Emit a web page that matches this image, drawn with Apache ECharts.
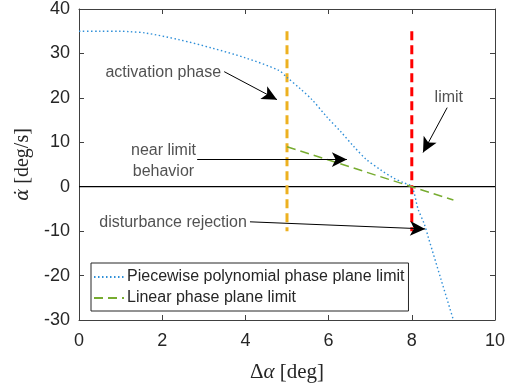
<!DOCTYPE html>
<html lang="en">
<head>
  <meta charset="UTF-8">
  <script src="https://cdn.jsdelivr.net/npm/echarts/dist/echarts.min.js"></script>
  <title>Phase plane limit</title>
  <style>
    html, body { margin: 0; padding: 0; background: #fff; }
    #chart { width: 505px; height: 385px; }
  </style>
</head>
<body>
  <div id="chart"></div>
  <script>
    // piecewise polynomial limit
    const polyX = [0, 0.5, 1.0, 1.2, 1.6, 2.4, 3.2, 4.0, 4.8, 5.0, 5.3, 5.6, 5.95, 6.3, 6.6, 6.9, 7.25, 7.55, 7.8, 8.0, 8.15, 8.3, 8.4, 8.7, 9.0];
    const polyY = [35, 35, 35, 34.9, 34.6, 33.1, 31.2, 29.0, 26.2, 24.6, 22.2, 19.6, 15.8, 12.3, 9.1, 6.2, 3.8, 2.0, 0.9, 0.0, -5.0, -8.4, -11.5, -20.8, -30];

    // linear limit
    const linX = [5, 9];
    const linY = [9, -3];

    // vertical markers (activation / limit)
    const actX = 5, limX = 8;
    const markerY = [35, -10];

    // annotations: text, anchor point, arrow start/end
    const notes = [
      { text: 'activation phase', at: [3.44, 25.6], pos: 'left', from: [3.49, 25.9], to: [4.76, 19.6] },
      { text: 'near limit\nbehavior', at: [2.03, 5.7], pos: 'inside', from: [2.84, 6.1], to: [6.44, 6.1] },
      { text: 'limit', at: [8.89, 20.0], pos: 'inside', from: [8.85, 17.8], to: [8.27, 7.7] },
      { text: 'disturbance rejection', at: [4.06, -8.0], pos: 'left', from: [4.11, -7.9], to: [8.32, -9.5] }
    ];

    const sans = 'Liberation Sans, Arial, sans-serif';
    const serif = 'Liberation Serif, Times New Roman, serif';
    const axisCol = '#404040';

    const chart = echarts.init(document.getElementById('chart'), null, { renderer: 'canvas' });

    const pairs = (xs, ys) => xs.map((x, i) => [x, ys[i]]);

    const boxAxis = (pos) => ({
      type: 'value',
      position: pos,
      axisLine: { show: true, onZero: false, lineStyle: { color: axisCol, width: 1 } },
      axisTick: { show: true, inside: true, length: 5, lineStyle: { color: axisCol } },
      axisLabel: { show: false },
      splitLine: { show: false }
    });

    const option = {
      animation: false,
      grid: { left: 79, right: 10, top: 9, bottom: 65, containLabel: false, outerBoundsMode: 'none' },
      xAxis: [
        {
          type: 'value', min: 0, max: 10, interval: 2,
          axisLine: { show: true, onZero: false, lineStyle: { color: axisCol, width: 1 } },
          axisTick: { show: true, inside: true, length: 5, lineStyle: { color: axisCol } },
          axisLabel: { margin: 12, fontFamily: sans, fontSize: 18, color: '#262626' },
          splitLine: { show: false },
          name: '{d|Δ}{i|α} [deg]',
          nameLocation: 'middle',
          nameGap: 42,
          nameTextStyle: {
            fontFamily: serif, fontSize: 21, color: '#262626',
            rich: {
              d: { fontFamily: serif, fontSize: 21, color: '#262626' },
              i: { fontFamily: serif, fontSize: 21, fontStyle: 'italic', color: '#262626' }
            }
          }
        },
        Object.assign(boxAxis('top'), { min: 0, max: 10, interval: 2 })
      ],
      yAxis: [
        {
          type: 'value', min: -30, max: 40, interval: 10,
          axisLine: { show: true, onZero: false, lineStyle: { color: axisCol, width: 1 } },
          axisTick: { show: true, inside: true, length: 5, lineStyle: { color: axisCol } },
          axisLabel: { margin: 9, fontFamily: sans, fontSize: 18, color: '#262626' },
          splitLine: { show: false },
          name: '{i|α̇} [deg/s]',
          nameLocation: 'middle',
          nameGap: 38,
          nameTextStyle: {
            fontFamily: serif, fontSize: 20, color: '#262626',
            rich: {
              i: { fontFamily: 'DejaVu Serif', fontSize: 18, fontStyle: 'italic', color: '#262626' }
            }
          }
        },
        Object.assign(boxAxis('right'), { min: -30, max: 40, interval: 10 })
      ],
      legend: {
        data: ['Piecewise polynomial phase plane limit', 'Linear phase plane limit'],
        orient: 'vertical',
        left: 91, top: 263,
        itemWidth: 30, itemHeight: 10, itemGap: 5,
        padding: [6, 4, 5, 2],
        borderColor: '#262626', borderWidth: 1, borderRadius: 0,
        backgroundColor: '#fff',
        itemStyle: { opacity: 0 },
        textStyle: { fontFamily: sans, fontSize: 16, color: '#262626', padding: [0, 0, 0, -2] }
      },
      series: [
        {
          name: 'zero', type: 'line', symbol: 'none', silent: true,
          data: [[0, 0], [10, 0]],
          lineStyle: { color: '#000', width: 1.3 }
        },
        {
          name: 'activation', type: 'line', symbol: 'none', silent: true,
          data: markerY.map(y => [actX, y]),
          lineStyle: { color: '#EDB120', width: 3, type: [9, 5] }
        },
        {
          name: 'limitline', type: 'line', symbol: 'none', silent: true,
          data: markerY.map(y => [limX, y]),
          lineStyle: { color: '#FF0000', width: 3, type: [9, 5] }
        },
        {
          name: 'Piecewise polynomial phase plane limit', type: 'line', symbol: 'none',
          smooth: 0.3,
          data: pairs(polyX, polyY),
          color: '#2f8fd8',
          lineStyle: { color: '#2f8fd8', width: 1.4, type: [1.5, 2.5] }
        },
        {
          name: 'Linear phase plane limit', type: 'line', symbol: 'none',
          data: pairs(linX, linY),
          color: '#77AC30',
          lineStyle: { color: '#77AC30', width: 1.5, type: [9, 5] }
        },
        {
          name: 'notes', type: 'scatter', symbolSize: 0, silent: true,
          data: notes.map(n => ({
            value: n.at,
            label: {
              show: true, position: n.pos, distance: 1, formatter: n.text,
              fontFamily: sans, fontSize: 16, color: '#262626', lineHeight: 21,
              align: n.pos === 'left' ? 'right' : 'center'
            }
          })),
          markLine: {
            silent: true,
            symbol: ['none', 'arrow'],
            symbolSize: [11, 15],
            label: { show: false },
            lineStyle: { color: '#000', width: 1, type: 'solid' },
            data: notes.map(n => [{ coord: n.from }, { coord: n.to }])
          }
        }
      ]
    };

    chart.setOption(option);
  </script>
</body>
</html>
